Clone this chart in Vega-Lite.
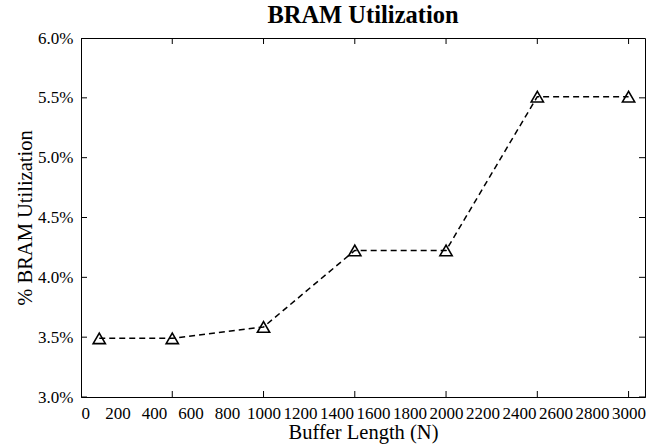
{
  "$schema": "https://vega.github.io/schema/vega-lite/v6.json",
  "autosize": {"type": "none"},
  "width": 564,
  "height": 359,
  "padding": {"left": 81, "top": 38, "right": 3, "bottom": 51},
  "background": "white",
  "title": {"text": "BRAM Utilization", "font": "Liberation Serif", "fontSize": 24.5, "fontWeight": "bold", "color": "black", "offset": 1, "anchor": "middle"},
  "config": {
    "view": {"stroke": "black", "strokeWidth": 1},
    "axis": {"labelFont": "Liberation Serif", "titleFont": "Liberation Serif", "labelColor": "black", "titleColor": "black", "labelFontSize": 17, "titleFontSize": 20.5, "titleFontWeight": "normal", "grid": false, "domainColor": "black", "ticks": false, "tickSize": 0},
    "axisX": {"title": "Buffer Length (N)", "format": "d", "values": [0, 500, 1000, 1500, 2000, 2500, 3000], "labelPadding": 8, "titlePadding": 1},
    "axisY": {"title": "% BRAM Utilization", "values": [3, 3.5, 4, 4.5, 5, 5.5, 6], "labelExpr": "format(datum.value, '.1f') + '%'", "labelPadding": 8, "titlePadding": 2}
  },
  "datasets": {
    "main": [
      {"n": 100, "u": 3.49},
      {"n": 500, "u": 3.49},
      {"n": 1000, "u": 3.585},
      {"n": 1500, "u": 4.225},
      {"n": 2000, "u": 4.225},
      {"n": 2500, "u": 5.51},
      {"n": 3000, "u": 5.51}
    ],
    "xticks": [{"v": 0}, {"v": 500}, {"v": 1000}, {"v": 1500}, {"v": 2000}, {"v": 2500}, {"v": 3000}],
    "yticks": [{"v": 3}, {"v": 3.5}, {"v": 4}, {"v": 4.5}, {"v": 5}, {"v": 5.5}, {"v": 6}]
  },
  "layer": [
    {
      "data": {"name": "main"},
      "mark": {"type": "line", "color": "black", "strokeWidth": 1.5, "strokeDash": [6, 4]},
      "encoding": {
        "x": {"field": "n", "type": "quantitative", "scale": {"domain": [0, 3090], "nice": false, "zero": false}, "axis": {"title": "Buffer Length (N)"}},
        "y": {"field": "u", "type": "quantitative", "scale": {"domain": [3, 6], "nice": false, "zero": false}, "axis": {"title": "% BRAM Utilization"}}
      }
    },
    {
      "data": {"name": "main"},
      "mark": {"type": "point", "shape": "triangle-up", "filled": false, "color": "black", "strokeWidth": 1.6, "size": 150, "opacity": 1},
      "encoding": {
        "x": {"field": "n", "type": "quantitative", "axis": {"title": "Buffer Length (N)"}},
        "y": {"field": "u", "type": "quantitative", "axis": {"title": "% BRAM Utilization"}}
      }
    },
    {
      "data": {"name": "xticks"},
      "mark": {"type": "tick", "orient": "vertical", "size": 12, "thickness": 1, "color": "black", "opacity": 1, "clip": true},
      "encoding": {
        "x": {"field": "v", "type": "quantitative", "axis": {"title": "Buffer Length (N)"}},
        "y": {"datum": 3, "type": "quantitative", "axis": {"title": "% BRAM Utilization"}}
      }
    },
    {
      "data": {"name": "xticks"},
      "mark": {"type": "tick", "orient": "vertical", "size": 12, "thickness": 1, "color": "black", "opacity": 1, "clip": true},
      "encoding": {
        "x": {"field": "v", "type": "quantitative", "axis": {"title": "Buffer Length (N)"}},
        "y": {"datum": 6, "type": "quantitative", "axis": {"title": "% BRAM Utilization"}}
      }
    },
    {
      "data": {"name": "yticks"},
      "mark": {"type": "tick", "orient": "horizontal", "size": 12, "thickness": 1, "color": "black", "opacity": 1, "clip": true},
      "encoding": {
        "y": {"field": "v", "type": "quantitative", "axis": {"title": "% BRAM Utilization"}},
        "x": {"datum": 0, "type": "quantitative", "axis": {"title": "Buffer Length (N)"}}
      }
    },
    {
      "data": {"name": "yticks"},
      "mark": {"type": "tick", "orient": "horizontal", "size": 12, "thickness": 1, "color": "black", "opacity": 1, "clip": true},
      "encoding": {
        "y": {"field": "v", "type": "quantitative", "axis": {"title": "% BRAM Utilization"}},
        "x": {"datum": 3090, "type": "quantitative", "axis": {"title": "Buffer Length (N)"}}
      }
    }
  ]
}
